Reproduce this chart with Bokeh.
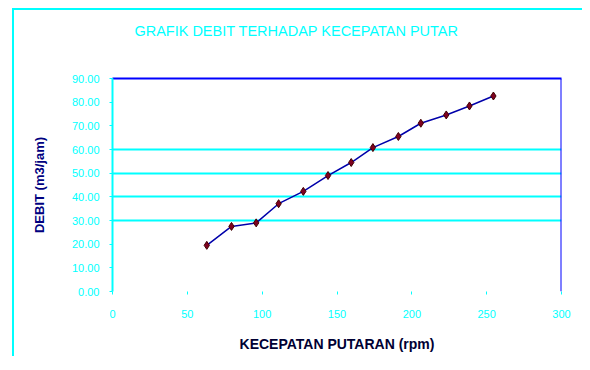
from bokeh.plotting import figure
from bokeh.models import FixedTicker, Range1d, Span, LinearAxis
from bokeh.embed import file_html
from bokeh.resources import INLINE

# Data
rpm = [63, 79.5, 96, 111, 127.5, 144, 159.5, 174, 191, 206, 223, 238.5, 254.5]
debit = [19.5, 27.5, 29.0, 37.1, 42.3, 49.0, 54.5, 60.8, 65.5, 71.1, 74.6, 78.4, 82.6]

x_ticks = [0, 50, 100, 150, 200, 250, 300]
y_ticks = [0, 10, 20, 30, 40, 50, 60, 70, 80, 90]
y_tick_labels = ["0.00", "10.00", "20.00", "30.00", "40.00", "50.00", "60.00", "70.00", "80.00", "90.00"]
grid_values = [30, 40, 50, 60]

title_text = "GRAFIK DEBIT TERHADAP KECEPATAN PUTAR"
title_anchor = 123  # x value over which the title is centred
x_label = "KECEPATAN PUTARAN (rpm)"
y_label = "DEBIT (m3/jam)"

CYAN = "#00ffff"
BLUE = "#0000ff"
FONT = "Liberation Sans"

p = figure(width=570, height=348, output_backend="svg", toolbar_location=None,
           x_range=Range1d(0, 300), y_range=Range1d(0, 90),
           min_border_left=98, min_border_right=23, min_border_top=68, min_border_bottom=67)
p.margin = (8, 0, 0, 12)
p.styles = {"border-left": "2px solid #00ffff", "border-top": "2px solid #00ffff"}
p.outline_line_color = None
p.background_fill_color = "white"
p.border_fill_color = "white"

# bottom axis
xa = p.below[0]
xa.ticker = FixedTicker(ticks=x_ticks)
xa.axis_line_color = None
xa.major_tick_line_color = CYAN
xa.major_tick_in = 0
xa.major_tick_out = 3
xa.minor_tick_line_color = None
xa.major_label_text_color = CYAN
xa.major_label_text_font = FONT
xa.major_label_text_font_size = "11px"
xa.major_label_standoff = 15
xa.axis_label = x_label
xa.axis_label_text_font = FONT
xa.axis_label_text_font_size = "14px"
xa.axis_label_text_font_style = "bold"
xa.axis_label_text_color = "#000033"
xa.axis_label_standoff = 15

# left axis
ya = p.left[0]
ya.ticker = FixedTicker(ticks=y_ticks)
ya.major_label_overrides = {t: l for t, l in zip(y_ticks, y_tick_labels)}
ya.axis_line_color = CYAN
ya.axis_line_width = 2
ya.major_tick_line_color = CYAN
ya.major_tick_in = 0
ya.major_tick_out = 3
ya.minor_tick_line_color = None
ya.major_label_text_color = CYAN
ya.major_label_text_font = FONT
ya.major_label_text_font_size = "11px"
ya.major_label_standoff = 10
ya.axis_label = y_label
ya.axis_label_text_font = FONT
ya.axis_label_text_font_size = "13px"
ya.axis_label_text_font_style = "bold"
ya.axis_label_text_color = "#000080"
ya.axis_label_standoff = 22

# top frame line as an axis, carrying the chart title
top = LinearAxis(ticker=FixedTicker(ticks=[title_anchor]), axis_line_color=BLUE, axis_line_width=2,
                 major_tick_line_color=None, minor_tick_line_color=None,
                 major_tick_in=0, major_tick_out=0, major_label_standoff=40,
                 major_label_overrides={title_anchor: title_text},
                 major_label_text_color=CYAN, major_label_text_font=FONT,
                 major_label_text_font_size="14.5px")
p.add_layout(top, "above")

# right frame line
p.add_layout(Span(location=300, dimension="height", line_color=BLUE, line_width=2))

p.xgrid.grid_line_color = None
p.ygrid.ticker = FixedTicker(ticks=grid_values)
p.ygrid.grid_line_color = CYAN
p.ygrid.grid_line_width = 2

p.line(rpm, debit, line_color="#0000aa", line_width=1.5)
p.scatter(rpm, debit, marker="diamond", size=8, fill_color="#800020", line_color="#400000")

open("out.html", "w").write(file_html(p, INLINE))
